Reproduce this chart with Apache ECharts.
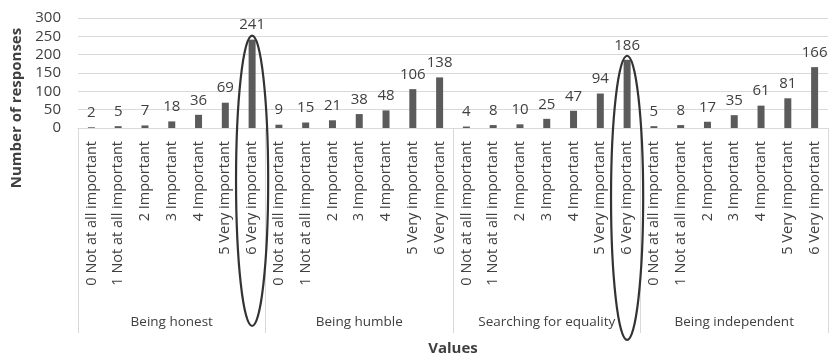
<!DOCTYPE html>
<html><head><meta charset="utf-8">
<script src="https://cdn.jsdelivr.net/npm/echarts@6/dist/echarts.min.js"></script>
<style>html,body{margin:0;padding:0;background:#fff}#c{width:831px;height:357px}</style>
</head><body><div id="c"></div>
<script>
var groups = ['Being honest', 'Being humble', 'Searching for equality', 'Being independent'];
var levels = ['0 Not at all important', '1 Not at all important', '2 Important', '3 Important', '4 Important', '5 Very important', '6 Very important'];
var honest = [2, 5, 7, 18, 36, 69, 241];
var humble = [9, 15, 21, 38, 48, 106, 138];
var equality = [4, 8, 10, 25, 47, 94, 186];
var independent = [5, 8, 17, 35, 61, 81, 166];
var yTicks = [0, 50, 100, 150, 200, 250, 300];
// highlighted bars: [category index, ellipse top value, ellipse bottom value]
var highlights = [[6, 252, -540], [20, 197, -578]];

var categories = [];
var values = [];
[honest, humble, equality, independent].forEach(function (arr) {
  arr.forEach(function (v, i) { categories.push(levels[i]); values.push(v); });
});

var font = 'Open Sans';
var chart = echarts.init(document.getElementById('c'));
chart.setOption({
  animation: false,
  textStyle: { fontFamily: font },
  grid: { left: 78, right: 3, top: 18, bottom: 229, containLabel: false },
  xAxis: [{
    type: 'category', data: categories,
    axisLine: { show: true, lineStyle: { color: '#d9d9d9' } },
    axisTick: { show: false },
    axisLabel: { interval: 0, rotate: 90, margin: 13, fontSize: 14.5, color: '#404040', fontFamily: font }
  }, {
    type: 'category', data: groups, position: 'bottom',
    axisLine: { show: false },
    axisTick: { show: true, length: 205, interval: 0, lineStyle: { color: '#d9d9d9' } },
    axisLabel: { interval: 0, margin: 187, fontSize: 13.5, color: '#404040', fontFamily: font },
    splitLine: { show: false }
  }],
  yAxis: {
    type: 'value', min: yTicks[0], max: yTicks[yTicks.length - 1], interval: 50,
    axisLine: { show: false }, axisTick: { show: false },
    axisLabel: { margin: 17, fontSize: 15, color: '#404040', fontFamily: font },
    splitLine: { lineStyle: { color: '#d9d9d9' } }
  },
  graphic: [{
    type: 'text', x: 17, y: 108, rotation: Math.PI / 2,
    style: { text: 'Number of responses', fontSize: 15, fontWeight: 'bold', fill: '#404040', fontFamily: font, align: 'center', verticalAlign: 'middle' }
  }, {
    type: 'text', x: 453, y: 349,
    style: { text: 'Values', fontSize: 15, fontWeight: 'bold', fill: '#404040', fontFamily: font, align: 'center', verticalAlign: 'middle' }
  }],
  series: [{
    type: 'bar', data: values, barWidth: 7, xAxisIndex: 0,
    itemStyle: { color: '#5b5b5b' },
    label: { show: true, position: 'top', distance: 7, fontSize: 15, color: '#404040', fontFamily: font }
  }, {
    type: 'custom', xAxisIndex: 0, data: highlights, silent: true, clip: false, z: 10,
    renderItem: function (params, api) {
      var top = api.coord([api.value(0), api.value(1)]);
      var bot = api.coord([api.value(0), api.value(2)]);
      var w = api.size([1, 0])[0];
      return {
        type: 'ellipse',
        shape: { cx: top[0], cy: (top[1] + bot[1]) / 2, rx: w * 0.6, ry: (bot[1] - top[1]) / 2 },
        style: { fill: 'none', stroke: '#333', lineWidth: 2.2 }
      };
    }
  }]
});
</script></body></html>
